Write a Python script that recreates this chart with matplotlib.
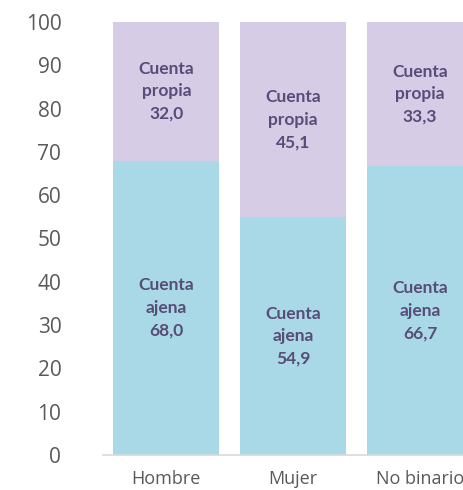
import matplotlib
matplotlib.use("Agg")
import matplotlib.pyplot as plt
import numpy as np

categories = ["Hombre", "Mujer", "No binario"]
ajena = [68.0, 54.9, 66.7]
propia = [32.0, 45.1, 33.3]
series_names = ["Cuenta ajena", "Cuenta propia"]
yticks = list(range(0, 101, 10))

c_ajena = "#A9D8E6"
c_propia = "#D7CCE6"
txt = "#594C78"

fig = plt.figure(figsize=(4.63, 4.90), dpi=100)
ax = fig.add_axes([103/463, 35/490, 380.5/463, 433/490])

x = np.arange(len(categories))
w = 0.835
ax.bar(x, ajena, width=w, color=c_ajena, zorder=2)
ax.bar(x, propia, width=w, bottom=ajena, color=c_propia, zorder=2)

def fmt(v):
    return f"{v:.1f}".replace(".", ",")

for i in range(len(categories)):
    ax.text(x[i], ajena[i] / 2, "Cuenta\najena\n" + fmt(ajena[i]), ha="center", va="center",
            fontsize=12.5, fontweight="bold", color=txt, family="Lato", linespacing=1.5)
    ax.text(x[i], ajena[i] + propia[i] / 2, "Cuenta\npropia\n" + fmt(propia[i]), ha="center", va="center",
            fontsize=12.5, fontweight="bold", color=txt, family="Lato", linespacing=1.5)

ax.set_xlim(-0.5, 2.5)
ax.set_ylim(0, 100)
ax.set_yticks(yticks)
ax.set_yticklabels([str(t) for t in yticks], fontsize=15, color="#595959", family="Open Sans")
ax.set_xticks(x)
ax.set_xticklabels(categories, fontsize=13, color="#595959", family="Open Sans")
ax.tick_params(axis="both", length=0)
ax.tick_params(axis="y", pad=30)
ax.tick_params(axis="x", pad=11)
for s in ["top", "right", "left"]:
    ax.spines[s].set_visible(False)
ax.spines["bottom"].set_color("#D9D9D9")
ax.spines["bottom"].set_linewidth(1.2)

fig.savefig("out.png", dpi=100)
